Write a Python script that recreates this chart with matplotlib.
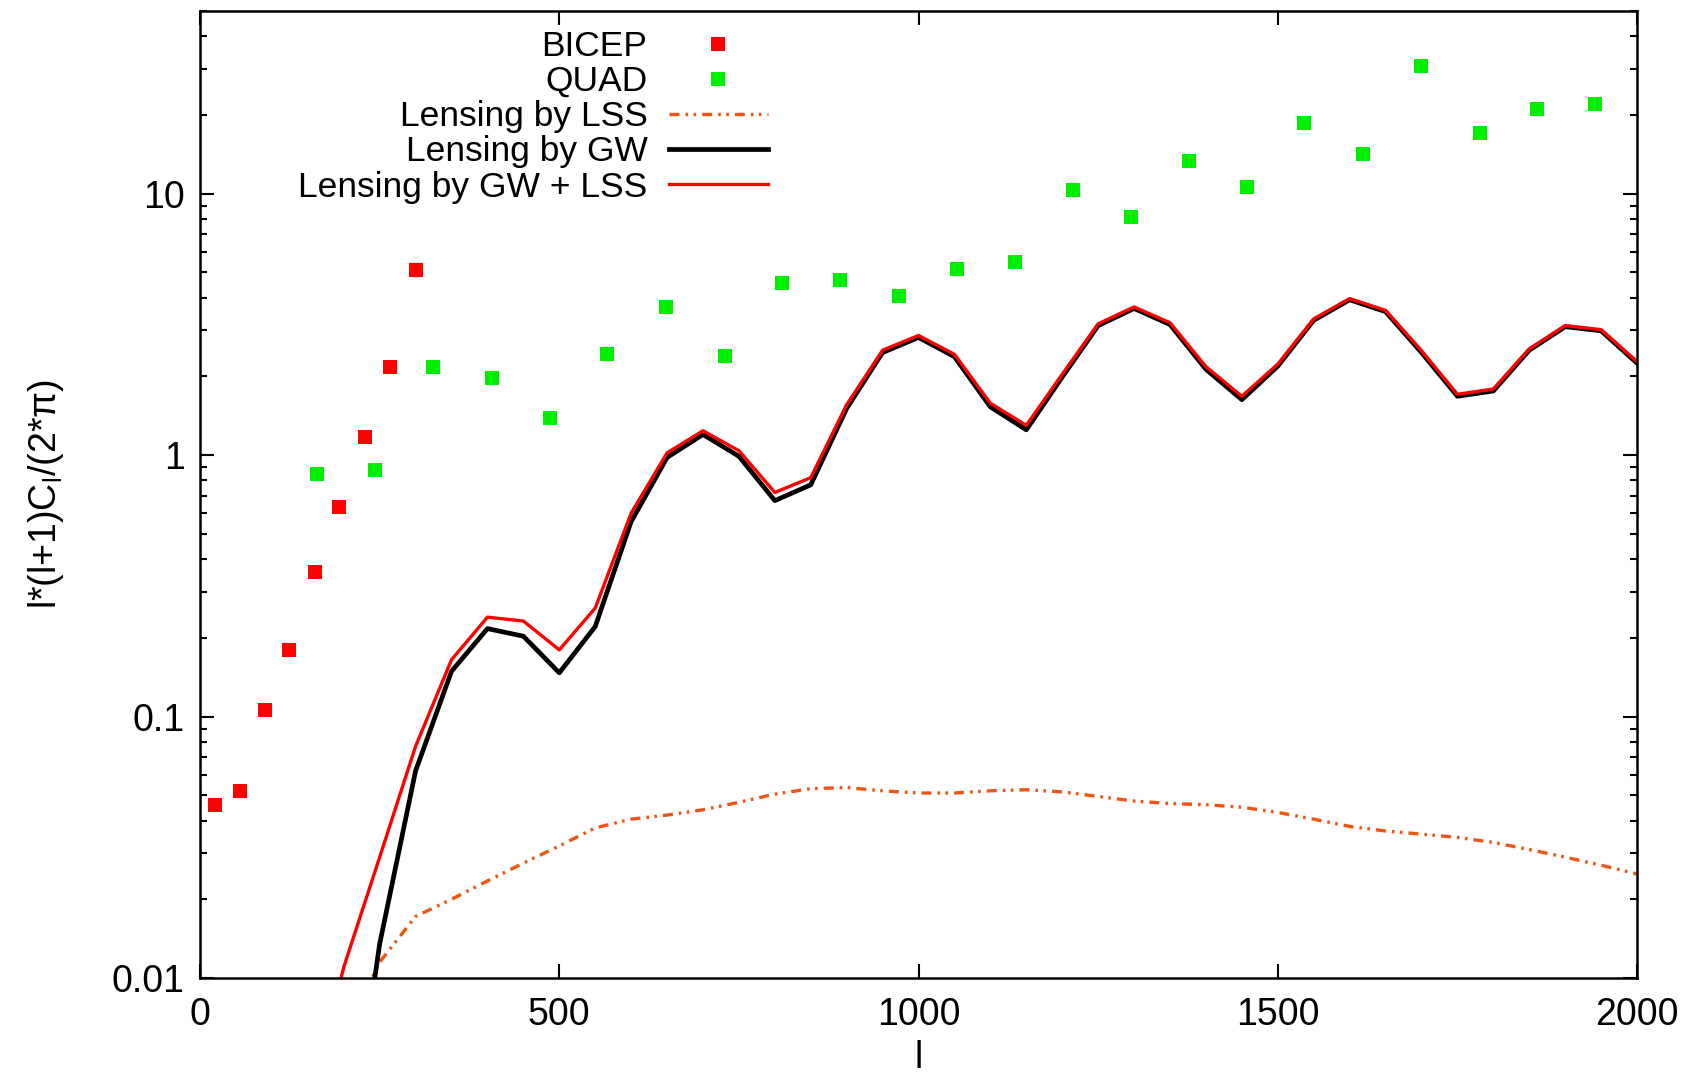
import matplotlib
matplotlib.use("Agg")
import matplotlib.pyplot as plt
from matplotlib.ticker import FixedLocator, NullFormatter, LogLocator

# BICEP band powers
bicep_l = [21, 55, 90, 124, 160, 194, 230, 264, 300]
bicep_cl = [0.0457, 0.052, 0.106, 0.18, 0.357, 0.636, 1.17, 2.17, 5.1]

# QUAD band powers
quad_l = [163, 243, 324, 406, 487, 567, 649, 730, 810, 891, 973, 1054,
	1134, 1215, 1296, 1376, 1457, 1537, 1619, 1700, 1781, 1861, 1942]
quad_cl = [0.85, 0.876, 2.17, 1.97, 1.39, 2.43, 3.68, 2.4, 4.57, 4.66, 4.08, 5.17,
	5.47, 10.3, 8.13, 13.4, 10.6, 18.6, 14.2, 30.7, 17.1, 21.1, 22.1]

# model curves, sampled every 50 in l
model_l = [150, 200, 250, 300, 350, 400, 450, 500, 550, 600, 650, 700, 750, 800,
	850, 900, 950, 1000, 1050, 1100, 1150, 1200, 1250, 1300, 1350, 1400,
	1450, 1500, 1550, 1600, 1650, 1700, 1750, 1800, 1850, 1900, 1950, 2000]

lss_cl = [0.002, 0.006, 0.0115, 0.0172, 0.0200, 0.0235, 0.0275, 0.0320, 0.0375,
	0.0405, 0.0420, 0.0440, 0.0470, 0.0505, 0.0530, 0.0535, 0.0520, 0.0510,
	0.0510, 0.0520, 0.0525, 0.0515, 0.0495, 0.0475, 0.0465, 0.0460, 0.0450,
	0.0430, 0.0405, 0.0380, 0.0365, 0.0355, 0.0345, 0.0330, 0.0310, 0.0290,
	0.0270, 0.0250]

gw_cl = [0.0002, 0.0015, 0.0135, 0.062, 0.149, 0.217, 0.203, 0.147, 0.221,
	0.557, 0.98, 1.20, 0.99, 0.67, 0.77, 1.51, 2.47, 2.82, 2.38, 1.53, 1.25,
	1.99, 3.13, 3.64, 3.16, 2.13, 1.63, 2.19, 3.28, 3.93, 3.54, 2.47, 1.68,
	1.76, 2.52, 3.10, 2.99, 2.25]

gw_lss_cl = [0.003, 0.011, 0.029, 0.077, 0.165, 0.240, 0.232, 0.180, 0.260,
	0.60, 1.02, 1.24, 1.04, 0.72, 0.82, 1.56, 2.52, 2.87, 2.43, 1.58, 1.30,
	2.04, 3.18, 3.69, 3.21, 2.18, 1.68, 2.23, 3.32, 3.97, 3.58, 2.51, 1.71,
	1.79, 2.55, 3.13, 3.02, 2.28]

plt.rcParams['font.family'] = ['Liberation Sans', 'DejaVu Sans']
plt.rcParams['mathtext.fontset'] = 'custom'
plt.rcParams['mathtext.rm'] = 'Liberation Sans'
plt.rcParams['mathtext.it'] = 'Liberation Sans'

fig = plt.figure(figsize=(16.84, 10.81), dpi=100)
ax = fig.add_axes([0.1188, 0.0953, 0.8533, 0.8945])

ax.plot(bicep_l, bicep_cl, ls="none", marker="s", ms=10.5, mew=0, color="#ff0000", label="BICEP")
ax.plot(quad_l, quad_cl, ls="none", marker="s", ms=10.5, mew=0, color="#00ee00", label="QUAD")
ax.plot(model_l, lss_cl, color="#ee5511", lw=2.4, dashes=(3.0, 1.8, 0.8, 1.6, 0.8, 1.8), label="Lensing by LSS")
ax.plot(model_l, gw_cl, color="black", lw=3.4, label="Lensing by GW")
ax.plot(model_l, gw_lss_cl, color="#ff0000", lw=2.4, label="Lensing by GW + LSS")

ax.set_yscale("log")
ax.set_xlim(0, 2000)
ax.set_ylim(0.01, 50)

ax.xaxis.set_major_locator(FixedLocator([0, 500, 1000, 1500, 2000]))
ax.yaxis.set_major_locator(FixedLocator([0.01, 0.1, 1, 10]))
ax.set_yticklabels(["0.01", "0.1", "1", "10"])
ax.yaxis.set_minor_locator(LogLocator(base=10, subs=range(2, 10)))
ax.yaxis.set_minor_formatter(NullFormatter())

ax.tick_params(which="both", direction="in", top=True, right=True, width=1.5, labelsize=27)
ax.tick_params(which="major", length=10)
ax.tick_params(which="minor", length=5)
ax.tick_params(axis="x", pad=14)
ax.tick_params(axis="y", pad=11)
for sp in ax.spines.values():
	sp.set_linewidth(1.8)

ax.set_xlabel("l", fontsize=27, labelpad=5)
ax.set_ylabel("l*(l+1)C$_l$/(2*$\\pi$)", fontsize=27, labelpad=33)

# legend in the upper left, text right aligned with samples after it
leg = ax.legend(loc="upper right", bbox_to_anchor=(0.405, 0.995), frameon=False,
	markerfirst=False, numpoints=1, fontsize=25.5, labelspacing=0.06,
	handlelength=2.8, handletextpad=0.6, borderaxespad=0)
for t in leg.get_texts():
	t.set_ha("right")

plt.savefig("out.png", dpi=100)
